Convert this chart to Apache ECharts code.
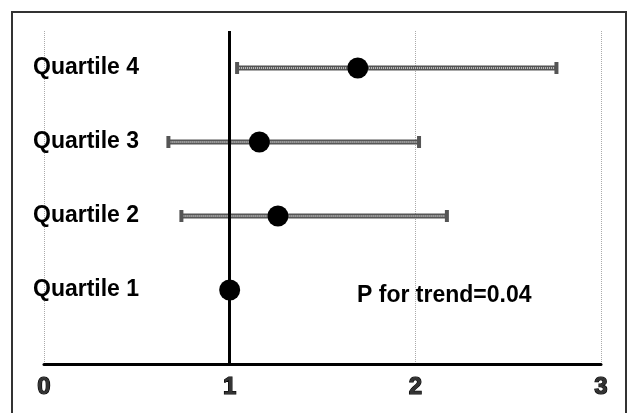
<!DOCTYPE html>
<html>
<head>
<meta charset="utf-8">
<script src="https://cdn.jsdelivr.net/npm/echarts@6/dist/echarts.min.js"></script>
<style>html,body{margin:0;padding:0;background:#fff;}#chart{width:628px;height:413px;}</style>
</head>
<body>
<div id="chart"></div>
<script>
const categories = ['Quartile 1', 'Quartile 2', 'Quartile 3', 'Quartile 4'];
const rowPositions = [1, 2, 3, 4];
const estimates = [1.00, 1.26, 1.16, 1.69];
const lowerCI = [null, 0.74, 0.67, 1.04];
const upperCI = [null, 2.17, 2.02, 2.76];
const xTickValues = [0, 1, 2, 3];
const referenceValue = 1;
const annotationText = 'P for trend=0.04';

const pointData = estimates.map((v, i) => [v, rowPositions[i]]);
const ciData = [];
rowPositions.forEach((r, i) => {
  if (lowerCI[i] != null && upperCI[i] != null) ciData.push([r, lowerCI[i], upperCI[i]]);
});

const FONT = '"Liberation Sans", Arial, Helvetica, sans-serif';
const chart = echarts.init(document.getElementById('chart'), null, {renderer: 'canvas'});

function renderCI(params, api) {
  const y = api.value(0), lo = api.value(1), hi = api.value(2);
  const p1 = api.coord([lo, y]);
  const p2 = api.coord([hi, y]);
  const capH = 6;
  return {
    type: 'group',
    children: [
      {type: 'line', shape: {x1: p1[0], y1: p1[1], x2: p2[0], y2: p2[1]}, style: {stroke: '#555', lineWidth: 5}},
      {type: 'line', shape: {x1: p1[0], y1: p1[1], x2: p2[0], y2: p2[1]}, style: {stroke: '#c4c4c4', lineWidth: 2, lineDash: [1, 1]}},
      {type: 'line', shape: {x1: p1[0], y1: p1[1] - capH, x2: p1[0], y2: p1[1] + capH}, style: {stroke: '#555', lineWidth: 4}},
      {type: 'line', shape: {x1: p2[0], y1: p2[1] - capH, x2: p2[0], y2: p2[1] + capH}, style: {stroke: '#555', lineWidth: 4}}
    ]
  };
}

const option = {
  animation: false,
  backgroundColor: '#fff',
  grid: {left: 44, right: 27, top: 31, bottom: 49, containLabel: false},
  xAxis: {
    type: 'value', min: 0, max: 3, interval: 1,
    axisLine: {show: true, lineStyle: {color: '#000', width: 3}},
    axisTick: {show: false},
    splitLine: {show: true, lineStyle: {color: '#aaa', type: 'dotted', width: 1}},
    axisLabel: {
      margin: 11, color: '#333', fontFamily: FONT, fontWeight: 'bold', fontSize: 24,
      textBorderColor: '#000', textBorderWidth: 1.2,
      formatter: v => xTickValues.includes(v) ? String(v) : ''
    }
  },
  yAxis: {
    type: 'value', min: 0, max: 4.5, interval: 1,
    axisLine: {show: false}, axisTick: {show: false}, splitLine: {show: false},
    axisLabel: {
      align: 'left', margin: 11, color: '#000', fontFamily: FONT, fontWeight: 'bold', fontSize: 23,
      formatter: v => { const i = rowPositions.indexOf(v); return i >= 0 ? categories[i] : ''; }
    }
  },
  series: [
    {
      type: 'custom', renderItem: renderCI, data: ciData,
      encode: {x: [1, 2], y: 0}, z: 2, silent: true
    },
    {
      type: 'scatter', data: pointData, symbol: 'circle', symbolSize: 21,
      itemStyle: {color: '#000', opacity: 1}, z: 5, silent: true,
      markLine: {
        silent: true, symbol: 'none', label: {show: false},
        lineStyle: {color: '#000', width: 3, type: 'solid'},
        data: [{xAxis: referenceValue}]
      }
    }
  ],
  graphic: [
    {type: 'rect', shape: {x: 12, y: 12, width: 614, height: 430}, style: {fill: 'none', stroke: '#333', lineWidth: 2}, silent: true},
    {type: 'text', left: 357, top: 284, style: {text: annotationText, fill: '#000', font: 'bold 23px ' + FONT}, silent: true}
  ]
};
chart.setOption(option);
</script>
</body>
</html>
